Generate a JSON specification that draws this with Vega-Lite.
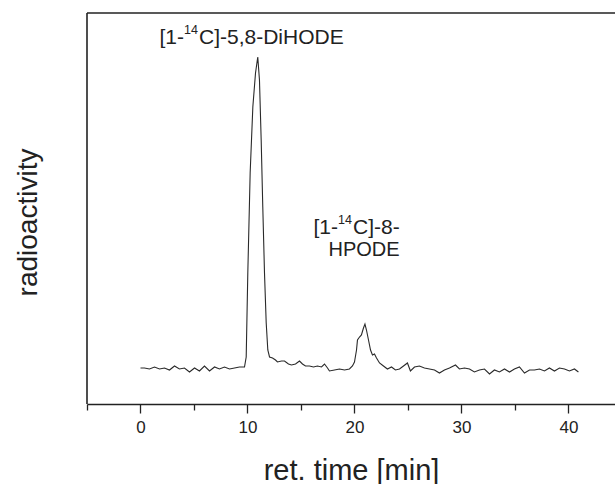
{
  "$schema": "https://vega.github.io/schema/vega-lite/v6.json",
  "autosize": "none",
  "width": 528,
  "height": 391,
  "padding": {"left": 87, "top": 13, "right": 0, "bottom": 80},
  "background": "white",
  "config": {
    "view": {"stroke": null},
    "font": "Liberation Sans"
  },
  "datasets": {
    "trace": [
      {"t": 0.00, "v": 36}, {"t": 0.37, "v": 36}, {"t": 0.84, "v": 35}, {"t": 1.31, "v": 37},
      {"t": 1.78, "v": 35}, {"t": 2.24, "v": 36}, {"t": 2.71, "v": 34}, {"t": 3.18, "v": 38},
      {"t": 3.64, "v": 35}, {"t": 4.11, "v": 36}, {"t": 4.58, "v": 32}, {"t": 5.05, "v": 36},
      {"t": 5.51, "v": 33}, {"t": 5.98, "v": 38}, {"t": 6.45, "v": 33}, {"t": 6.92, "v": 37},
      {"t": 7.38, "v": 35}, {"t": 7.85, "v": 37}, {"t": 8.32, "v": 35}, {"t": 8.79, "v": 36},
      {"t": 9.25, "v": 37}, {"t": 9.72, "v": 37}, {"t": 9.88, "v": 47}, {"t": 10.03, "v": 131},
      {"t": 10.25, "v": 231}, {"t": 10.50, "v": 297}, {"t": 10.75, "v": 331}, {"t": 10.96, "v": 347},
      {"t": 11.12, "v": 324}, {"t": 11.28, "v": 264}, {"t": 11.43, "v": 197}, {"t": 11.59, "v": 131},
      {"t": 11.75, "v": 81}, {"t": 11.90, "v": 54}, {"t": 12.06, "v": 47}, {"t": 12.34, "v": 46},
      {"t": 12.62, "v": 44}, {"t": 12.80, "v": 42}, {"t": 13.18, "v": 43}, {"t": 13.46, "v": 43},
      {"t": 13.83, "v": 40}, {"t": 14.11, "v": 39}, {"t": 14.49, "v": 40}, {"t": 14.86, "v": 43},
      {"t": 15.14, "v": 40}, {"t": 15.42, "v": 38}, {"t": 15.79, "v": 38}, {"t": 16.17, "v": 37},
      {"t": 16.54, "v": 38}, {"t": 16.92, "v": 37}, {"t": 17.20, "v": 40}, {"t": 17.48, "v": 36},
      {"t": 17.66, "v": 33}, {"t": 18.13, "v": 34}, {"t": 18.60, "v": 35}, {"t": 19.07, "v": 34},
      {"t": 19.53, "v": 35}, {"t": 19.81, "v": 38}, {"t": 20.00, "v": 42}, {"t": 20.19, "v": 54},
      {"t": 20.28, "v": 64}, {"t": 20.47, "v": 67}, {"t": 20.65, "v": 69}, {"t": 20.84, "v": 76},
      {"t": 20.98, "v": 80}, {"t": 21.12, "v": 74}, {"t": 21.31, "v": 64}, {"t": 21.50, "v": 54},
      {"t": 21.68, "v": 49}, {"t": 21.87, "v": 50}, {"t": 22.06, "v": 46}, {"t": 22.34, "v": 41},
      {"t": 22.71, "v": 38}, {"t": 23.08, "v": 35}, {"t": 23.46, "v": 37}, {"t": 23.83, "v": 34},
      {"t": 24.21, "v": 35}, {"t": 24.58, "v": 38}, {"t": 24.95, "v": 41}, {"t": 25.23, "v": 33},
      {"t": 25.61, "v": 37}, {"t": 26.07, "v": 38}, {"t": 26.54, "v": 36}, {"t": 27.01, "v": 35},
      {"t": 27.48, "v": 34}, {"t": 27.94, "v": 31}, {"t": 28.41, "v": 34}, {"t": 28.88, "v": 36},
      {"t": 29.44, "v": 39}, {"t": 29.81, "v": 35}, {"t": 30.28, "v": 36}, {"t": 30.75, "v": 35},
      {"t": 31.21, "v": 32}, {"t": 31.68, "v": 34}, {"t": 32.15, "v": 35}, {"t": 32.62, "v": 30},
      {"t": 33.08, "v": 34}, {"t": 33.55, "v": 32}, {"t": 34.02, "v": 35}, {"t": 34.49, "v": 32},
      {"t": 34.95, "v": 35}, {"t": 35.42, "v": 37}, {"t": 35.89, "v": 31}, {"t": 36.36, "v": 34},
      {"t": 36.82, "v": 34}, {"t": 37.29, "v": 35}, {"t": 37.76, "v": 33}, {"t": 38.22, "v": 36},
      {"t": 38.69, "v": 33}, {"t": 39.16, "v": 36}, {"t": 39.63, "v": 35}, {"t": 40.09, "v": 33},
      {"t": 40.56, "v": 35}, {"t": 40.93, "v": 32}
    ],
    "labels": [
      {"t": 5.47, "v": 360, "pre": "[1-", "sup": "14", "post": "C]-5,8-DiHODE"},
      {"t": 19.86, "v": 170, "pre": "[1-", "sup": "14", "post": "C]-8-"}
    ],
    "labels2": [
      {"t": 20.89, "v": 148, "label": "HPODE"}
    ],
    "frame": [
      {"top": 391, "left": -5}
    ]
  },
  "layer": [
    {
      "data": {"name": "trace"},
      "mark": {"type": "line", "color": "#2a2a2a", "strokeWidth": 1.1, "clip": true},
      "encoding": {
        "x": {
          "field": "t", "type": "quantitative",
          "scale": {"domain": [-5, 44.35], "nice": false, "zero": false},
          "axis": {
            "values": [-5, 0, 5, 10, 15, 20, 25, 30, 35, 40],
            "labelExpr": "datum.value % 10 === 0 ? datum.label : ''",
            "tickSize": {"condition": {"test": "datum.value % 10 === 0", "value": 9}, "value": 6},
            "tickColor": "#222", "tickWidth": 1.3,
            "domainColor": "#222", "domainWidth": 1.6,
            "grid": false,
            "labelFontSize": 17, "labelColor": "#222", "labelPadding": 6, "labelFont": "Liberation Sans",
            "title": "ret. time [min]",
            "titleFontSize": 29, "titleFontWeight": "normal", "titleColor": "#222", "titleFont": "Liberation Sans",
            "titleBaseline": "alphabetic", "titleY": 75
          }
        },
        "y": {
          "field": "v", "type": "quantitative",
          "scale": {"domain": [0, 391], "nice": false},
          "axis": {
            "labels": false, "ticks": false, "domain": false, "grid": false,
            "title": "radioactivity",
            "titleFontSize": 28, "titleFontWeight": "normal", "titleColor": "#222", "titleFont": "Liberation Sans",
            "titleAngle": -90, "titleAlign": "center", "titleBaseline": "alphabetic",
            "titleX": -51, "titleY": 209
          }
        }
      }
    },
    {
      "data": {"name": "frame"},
      "mark": {"type": "rule", "color": "#222", "strokeWidth": 1.6},
      "encoding": {"y": {"field": "top", "type": "quantitative"}}
    },
    {
      "data": {"name": "frame"},
      "mark": {"type": "rule", "color": "#222", "strokeWidth": 1.6},
      "encoding": {"x": {"field": "left", "type": "quantitative"}}
    },
    {
      "data": {"name": "labels"},
      "mark": {"type": "text", "font": "Liberation Sans", "fontSize": 21, "color": "#222", "align": "right", "baseline": "alphabetic", "dx": -15},
      "encoding": {
        "x": {"field": "t", "type": "quantitative"},
        "y": {"field": "v", "type": "quantitative"},
        "text": {"field": "pre", "type": "nominal"}
      }
    },
    {
      "data": {"name": "labels"},
      "mark": {"type": "text", "font": "Liberation Sans", "fontSize": 12.5, "color": "#222", "align": "left", "baseline": "alphabetic", "dx": -15, "dy": -10},
      "encoding": {
        "x": {"field": "t", "type": "quantitative"},
        "y": {"field": "v", "type": "quantitative"},
        "text": {"field": "sup", "type": "nominal"}
      }
    },
    {
      "data": {"name": "labels"},
      "mark": {"type": "text", "font": "Liberation Sans", "fontSize": 21, "color": "#222", "align": "left", "baseline": "alphabetic"},
      "encoding": {
        "x": {"field": "t", "type": "quantitative"},
        "y": {"field": "v", "type": "quantitative"},
        "text": {"field": "post", "type": "nominal"}
      }
    },
    {
      "data": {"name": "labels2"},
      "mark": {"type": "text", "font": "Liberation Sans", "fontSize": 20, "color": "#222", "align": "center", "baseline": "alphabetic"},
      "encoding": {
        "x": {"field": "t", "type": "quantitative"},
        "y": {"field": "v", "type": "quantitative"},
        "text": {"field": "label", "type": "nominal"}
      }
    }
  ]
}
